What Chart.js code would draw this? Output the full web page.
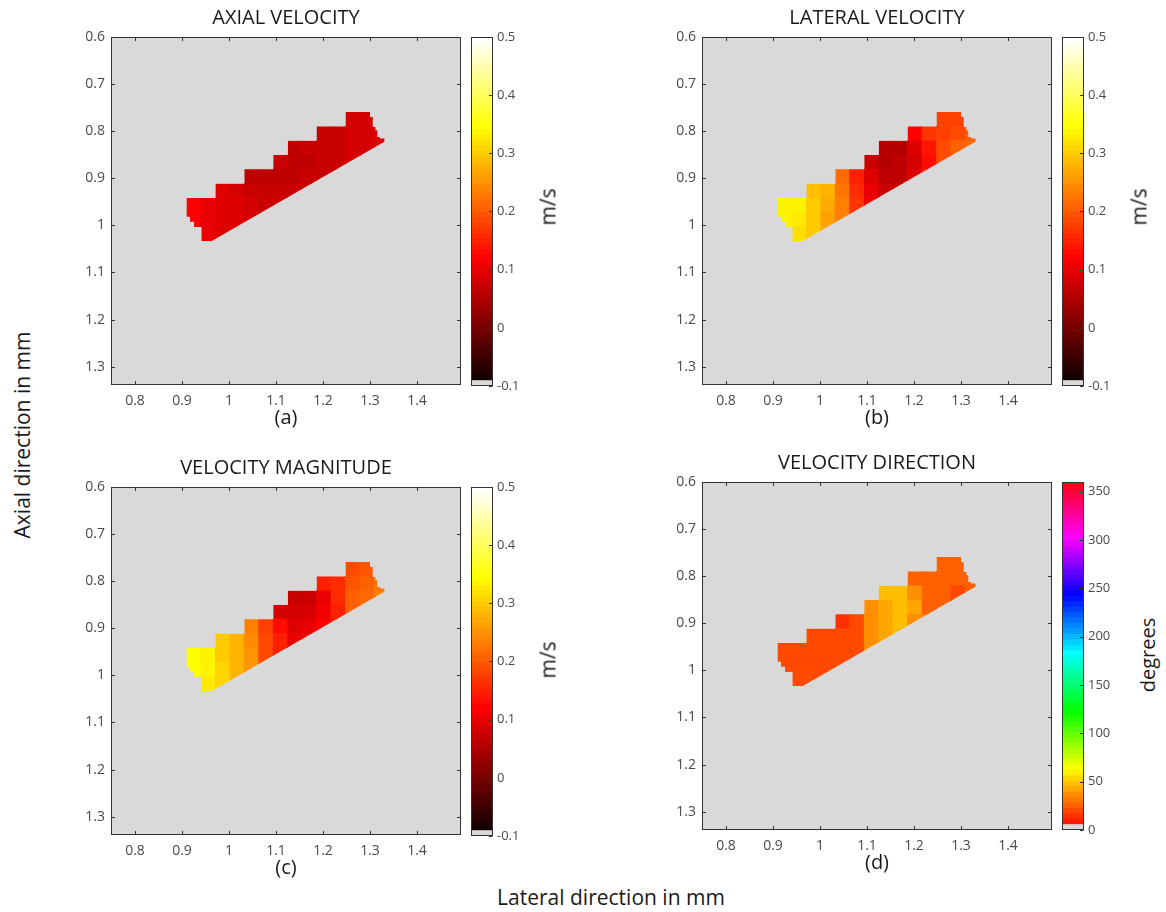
<!DOCTYPE html>
<html><head><meta charset="utf-8">
<script src="https://cdn.jsdelivr.net/npm/chart.js@4.4.1/dist/chart.umd.min.js"></script>
<style>
html,body{margin:0;padding:0;background:#fff;}
#fig{position:relative;width:1166px;height:912px;overflow:hidden;font-family:"Open Sans",sans-serif;color:#1a1a1a;}
canvas{position:absolute;}
.lbl{position:absolute;font-size:21px;white-space:nowrap;line-height:1;}
</style></head><body><div id="fig"></div>
<script>
// ---------------- data ----------------
const _ = null;
const LATERAL_MM = [0.925,0.956,0.987,1.018,1.048,1.079,1.110,1.141,1.171,1.202,1.233,1.264,1.294,1.325];
const AXIAL_MM   = [0.775,0.805,0.836,0.866,0.896,0.927,0.957,0.988,1.018];
const X_TICKS = [0.8,0.9,1,1.1,1.2,1.3,1.4];
const Y_TICKS = [0.6,0.7,0.8,0.9,1,1.1,1.2,1.3];
const VEL_TICKS = [-0.1,0,0.1,0.2,0.3,0.4,0.5];
const DEG_TICKS = [0,50,100,150,200,250,300,350];
const X_RANGE = [0.7489,1.4936];
const Y_RANGE = [0.6,1.339];
const VEL_RANGE = [-0.1,0.5];
const DEG_RANGE = [0,360];

// region outline (mm): lateral, axial
const MASK_OUTLINE = [
 [0.910,0.9419],[0.9715,0.9419],[0.9715,0.9115],[1.033,0.9115],[1.033,0.8811],[1.0945,0.8811],
 [1.0945,0.8507],[1.12525,0.8507],[1.12525,0.8203],[1.18675,0.8203],[1.18675,0.7899],[1.24825,0.7899],
 [1.24825,0.7595],[1.300,0.7595],[1.300,0.7697],[1.3057,0.7697],[1.3057,0.7909],[1.3113,0.7909],
 [1.3113,0.7979],[1.3155,0.7979],[1.3155,0.8121],[1.3213,0.8121],[1.3213,0.8155],[1.3304,0.8155],
 [1.3304,0.8227],[0.9632,1.0334],[0.9419,1.0334],[0.9419,1.0031],[0.9255,1.0031],[0.9255,0.9925],
 [0.917,0.9925],[0.917,0.9818],[0.910,0.9818]
];

// m/s
const AXIAL_VELOCITY = [
 [_,_,_,_,_,_,_,_,_,_,_,0.085,0.085,0.09],
 [_,_,_,_,_,_,_,_,_,0.075,0.078,0.082,0.085,0.09],
 [_,_,_,_,_,_,_,0.065,0.07,0.07,0.072,0.08,0.082,0.088],
 [_,_,_,_,_,_,0.07,0.062,0.065,0.072,0.075,0.082,0.085,_],
 [_,_,_,_,0.065,0.062,0.068,0.068,0.07,0.076,0.078,_,_,_],
 [_,_,0.09,0.085,0.072,0.07,0.072,0.075,0.075,_,_,_,_,_],
 [0.12,0.105,0.092,0.088,0.08,0.078,0.078,0.078,_,_,_,_,_,_],
 [0.118,0.105,0.095,0.09,0.085,0.08,_,_,_,_,_,_,_,_],
 [0.115,0.10,0.095,0.09,_,_,_,_,_,_,_,_,_,_]
];
const LATERAL_VELOCITY = [
 [_,_,_,_,_,_,_,_,_,_,_,0.175,0.18,0.20],
 [_,_,_,_,_,_,_,_,_,0.12,0.165,0.18,0.19,0.205],
 [_,_,_,_,_,_,_,0.05,0.055,0.09,0.14,0.185,0.20,0.21],
 [_,_,_,_,_,_,0.076,0.055,0.06,0.085,0.13,0.19,0.205,_],
 [_,_,_,_,0.21,0.15,0.094,0.06,0.065,0.095,0.135,_,_,_],
 [_,_,0.29,0.275,0.22,0.16,0.105,0.07,0.075,_,_,_,_,_],
 [0.34,0.335,0.295,0.27,0.23,0.165,0.11,0.08,_,_,_,_,_,_],
 [0.34,0.33,0.30,0.265,0.23,0.17,_,_,_,_,_,_,_,_],
 [0.335,0.32,0.30,0.27,_,_,_,_,_,_,_,_,_,_]
];
const VELOCITY_MAGNITUDE = [
 [_,_,_,_,_,_,_,_,_,_,_,0.19,0.195,0.22],
 [_,_,_,_,_,_,_,_,_,0.145,0.16,0.195,0.205,0.225],
 [_,_,_,_,_,_,_,0.07,0.075,0.10,0.155,0.20,0.215,0.23],
 [_,_,_,_,_,_,0.085,0.08,0.085,0.11,0.15,0.20,0.22,_],
 [_,_,_,_,0.23,0.175,0.13,0.095,0.10,0.12,0.155,_,_,_],
 [_,_,0.30,0.28,0.245,0.185,0.145,0.105,0.11,_,_,_,_,_],
 [0.345,0.34,0.30,0.275,0.255,0.19,0.15,0.115,_,_,_,_,_,_],
 [0.345,0.335,0.305,0.275,0.255,0.195,_,_,_,_,_,_,_,_],
 [0.34,0.33,0.305,0.28,_,_,_,_,_,_,_,_,_,_]
];
// degrees
const VELOCITY_DIRECTION = [
 [_,_,_,_,_,_,_,_,_,_,_,25,25,24],
 [_,_,_,_,_,_,_,_,_,24,24,24,24,23],
 [_,_,_,_,_,_,_,46,46,35,26,24,17,23],
 [_,_,_,_,_,_,34,44,48,40,28,25,22,_],
 [_,_,_,_,13,21,34,43,47,38,29,_,_,_],
 [_,_,20,20,20,21,35,41,45,_,_,_,_,_],
 [19,19,20,20,20,21,36,40,_,_,_,_,_,_],
 [19,19,20,20,20,21,_,_,_,_,_,_,_,_],
 [19,19,20,20,_,_,_,_,_,_,_,_,_,_]
];

// ---------------- styling ----------------
const FONT = '"Open Sans", sans-serif';
const GRAY = '#d9d9d9';
const AXIS_COLOR = '#333333';
const TICK_COLOR = '#4a4a4a';
const TEXT_COLOR = '#1a1a1a';
const TICK_SIZE = 14;
const NLEV = 64;
Chart.defaults.font.family = FONT;

function rgb(r,g,b){return `rgb(${Math.round(r*255)},${Math.round(g*255)},${Math.round(b*255)})`;}
const CMAPS = {
  hot: {range: VEL_RANGE, color(i){ if(i===0) return GRAY; const n=i+1;
      return rgb(Math.min(1,n/24), Math.max(0,Math.min(1,(n-24)/24)), Math.max(0,Math.min(1,(n-48)/16))); }},
  hsv: {range: DEG_RANGE, color(i){ if(i===0) return GRAY; const h=i/NLEV*6, k=Math.floor(h), f=h-k; let r,g,b;
      switch(k){case 0:r=1;g=f;b=0;break;case 1:r=1-f;g=1;b=0;break;case 2:r=0;g=1;b=f;break;
        case 3:r=0;g=1-f;b=1;break;case 4:r=f;g=0;b=1;break;default:r=1;g=0;b=1-f;}
      return rgb(r,g,b); }}
};
function levelOf(cm, v){ const [lo,hi]=cm.range; return Math.max(0,Math.min(NLEV-1,Math.floor((v-lo)/(hi-lo)*NLEV))); }

const fig = document.getElementById('fig');
function addCanvas(left, top, w, h){ const c=document.createElement('canvas'); c.width=w; c.height=h;
  c.style.left=left+'px'; c.style.top=top+'px'; c.style.width=w+'px'; c.style.height=h+'px'; fig.appendChild(c); return c; }
function line(ctx,x0,y0,x1,y1){ctx.beginPath();ctx.moveTo(x0,y0);ctx.lineTo(x1,y1);ctx.stroke();}

const heatPlugin = {
  id:'heat',
  beforeDatasetsDraw(chart, args, opts){
    const {ctx, chartArea:a, scales:{x,y}} = chart;
    const cm = CMAPS[opts.cmap];
    ctx.save();
    ctx.fillStyle = GRAY; ctx.fillRect(a.left,a.top,a.width,a.height);
    ctx.beginPath(); ctx.rect(a.left,a.top,a.width,a.height); ctx.clip();
    ctx.beginPath();
    MASK_OUTLINE.forEach(([mx,my],i)=>{ const px=x.getPixelForValue(mx), py=y.getPixelForValue(my); if(i) ctx.lineTo(px,py); else ctx.moveTo(px,py); });
    ctx.closePath(); ctx.clip();
    const hw=(LATERAL_MM[1]-LATERAL_MM[0])/2, hh=(AXIAL_MM[1]-AXIAL_MM[0])/2;
    chart.data.datasets[0].data.forEach(p=>{
      const x0=x.getPixelForValue(p.x-hw), x1=x.getPixelForValue(p.x+hw);
      const y0=y.getPixelForValue(p.y-hh), y1=y.getPixelForValue(p.y+hh);
      ctx.fillStyle = cm.color(levelOf(cm,p.v));
      ctx.fillRect(Math.min(x0,x1)-0.6, Math.min(y0,y1)-0.6, Math.abs(x1-x0)+1.2, Math.abs(y1-y0)+1.2);
    });
    ctx.restore();
  },
  afterDatasetsDraw(chart){
    const {ctx, chartArea:a, scales:{x,y}} = chart;
    const L=Math.round(a.left)+0.5, R=Math.round(a.right)-0.5, T=Math.round(a.top)+0.5, B=Math.round(a.bottom)-0.5, TL=3.5;
    ctx.save(); ctx.strokeStyle=AXIS_COLOR; ctx.lineWidth=1;
    ctx.strokeRect(L,T,R-L,B-T);
    x.ticks.forEach(t=>{ const px=Math.round(x.getPixelForValue(t.value))+0.5; line(ctx,px,B,px,B-TL); line(ctx,px,T,px,T+TL); });
    y.ticks.forEach(t=>{ const py=Math.round(y.getPixelForValue(t.value))+0.5; line(ctx,L,py,L+TL,py); line(ctx,R,py,R-TL,py); });
    ctx.restore();
  }
};

const cbPlugin = {
  id:'cbox',
  afterDatasetsDraw(chart){
    const {ctx, chartArea:a, scales:{y}} = chart;
    const L=Math.round(a.left)+0.5, R=Math.round(a.right)-0.5, T=Math.round(a.top)+0.5, B=Math.round(a.bottom)-0.5;
    ctx.save(); ctx.strokeStyle=AXIS_COLOR; ctx.lineWidth=1; ctx.strokeRect(L,T,R-L,B-T);
    y.ticks.forEach(t=>{ const py=Math.round(y.getPixelForValue(t.value))+0.5; line(ctx,R,py,R-3.5,py); });
    ctx.restore();
  }
};

const PW = 350, YW = 60, XH = 47, TH = 37, TITLE_SIZE = 20;
function heatPanel(cfg){
  const H = TH + cfg.plotH + XH, W = YW + PW + 5;
  const canvas = addCanvas(cfg.plotLeft - YW, cfg.plotTop - TH, W, H);
  const pts = [];
  cfg.grid.forEach((row,r)=>row.forEach((v,c)=>{ if(v!==null) pts.push({x:LATERAL_MM[c], y:AXIAL_MM[r], v}); }));
  const tLH = TITLE_SIZE*1.2;
  new Chart(canvas, {
    type:'scatter',
    data:{datasets:[{data:pts, pointRadius:0, pointHoverRadius:0, showLine:false}]},
    options:{
      responsive:false, animation:false, devicePixelRatio:1, events:[],
      layout:{padding:{left:0,right:5,top:0,bottom:0}},
      plugins:{
        legend:{display:false}, tooltip:{enabled:false},
        title:{display:true, text:cfg.title, fullSize:false, color:TEXT_COLOR,
               font:{family:FONT,size:TITLE_SIZE,weight:'normal',lineHeight:1.2}, padding:{top:TH-tLH-7,bottom:7}},
        heat:{cmap:cfg.cmap}
      },
      scales:{
        x:{type:'linear', min:X_RANGE[0], max:X_RANGE[1],
           afterBuildTicks:s=>{s.ticks=X_TICKS.map(v=>({value:v}));}, afterFit:s=>{s.height=XH;},
           grid:{display:false, drawTicks:false}, border:{display:false},
           ticks:{padding:8, color:TICK_COLOR, font:{family:FONT,size:TICK_SIZE}, maxRotation:0, autoSkip:false, callback:v=>String(v)},
           title:{display:true, text:cfg.sub, color:TEXT_COLOR, font:{family:FONT,size:20,lineHeight:1.2}, padding:{top:0,bottom:2}}},
        y:{type:'linear', reverse:true, min:Y_RANGE[0], max:Y_RANGE[1],
           afterBuildTicks:s=>{s.ticks=Y_TICKS.map(v=>({value:v}));}, afterFit:s=>{s.width=YW;},
           grid:{display:false, drawTicks:false}, border:{display:false},
           ticks:{padding:6, color:TICK_COLOR, font:{family:FONT,size:TICK_SIZE}, autoSkip:false, callback:v=>String(v)}}
      }
    },
    plugins:[heatPlugin]
  });
}

function colorbar(cfg){
  const cm = CMAPS[cfg.cmap]; const [lo,hi] = cm.range; const step=(hi-lo)/NLEV;
  const CBW = 22, AW = 50;
  const canvas = addCanvas(cfg.left - 5, cfg.top - 20, 5 + CBW + AW, cfg.height + 40);
  const datasets = [];
  for(let i=0;i<NLEV;i++){
    datasets.push({data:[[lo+i*step, lo+(i+1)*step]], backgroundColor:cm.color(i), borderWidth:0,
                   grouped:false, barPercentage:1, categoryPercentage:1});
  }
  new Chart(canvas, {
    type:'bar',
    data:{labels:[''], datasets},
    options:{
      responsive:false, animation:false, devicePixelRatio:1, events:[],
      layout:{padding:{left:5,right:0,top:20,bottom:20}},
      plugins:{legend:{display:false}, tooltip:{enabled:false}},
      scales:{
        x:{display:false},
        y:{type:'linear', position:'right', min:lo, max:hi,
           afterBuildTicks:s=>{s.ticks=cfg.ticks.map(v=>({value:v}));}, afterFit:s=>{s.width=AW;},
           grid:{display:false, drawTicks:false}, border:{display:false},
           ticks:{padding:4, color:TICK_COLOR, font:{family:FONT,size:13}, autoSkip:false, callback:v=>String(v)}}
      }
    },
    plugins:[cbPlugin]
  });
}

function label(text, cx, cy, rot, size){
  const d=document.createElement('div'); d.className='lbl'; d.textContent=text;
  d.style.left=cx+'px'; d.style.top=cy+'px'; if(size) d.style.fontSize=size+'px';
  d.style.transform='translate(-50%,-50%)'+(rot?' rotate(-90deg)':'');
  fig.appendChild(d);
}

heatPanel({plotLeft:111, plotTop:37,  plotH:348, title:'AXIAL VELOCITY',     sub:'(a)', grid:AXIAL_VELOCITY,     cmap:'hot'});
heatPanel({plotLeft:702, plotTop:37,  plotH:348, title:'LATERAL VELOCITY',   sub:'(b)', grid:LATERAL_VELOCITY,   cmap:'hot'});
heatPanel({plotLeft:111, plotTop:487, plotH:348, title:'VELOCITY MAGNITUDE', sub:'(c)', grid:VELOCITY_MAGNITUDE, cmap:'hot'});
heatPanel({plotLeft:702, plotTop:482, plotH:348, title:'VELOCITY DIRECTION', sub:'(d)', grid:VELOCITY_DIRECTION, cmap:'hsv'});

colorbar({left:471,  top:37,  height:349, cmap:'hot', ticks:VEL_TICKS});
colorbar({left:1062, top:37,  height:349, cmap:'hot', ticks:VEL_TICKS});
colorbar({left:471,  top:487, height:349, cmap:'hot', ticks:VEL_TICKS});
colorbar({left:1062, top:482, height:348, cmap:'hsv', ticks:DEG_TICKS});

label('m/s', 548, 207, true, 21);
label('m/s', 1139, 207, true, 21);
label('m/s', 548, 660, true, 21);
label('degrees', 1148, 655, true, 20);
label('Axial direction in mm', 22, 435, true, 21);
label('Lateral direction in mm', 611, 897, false, 21);
</script></body></html>
